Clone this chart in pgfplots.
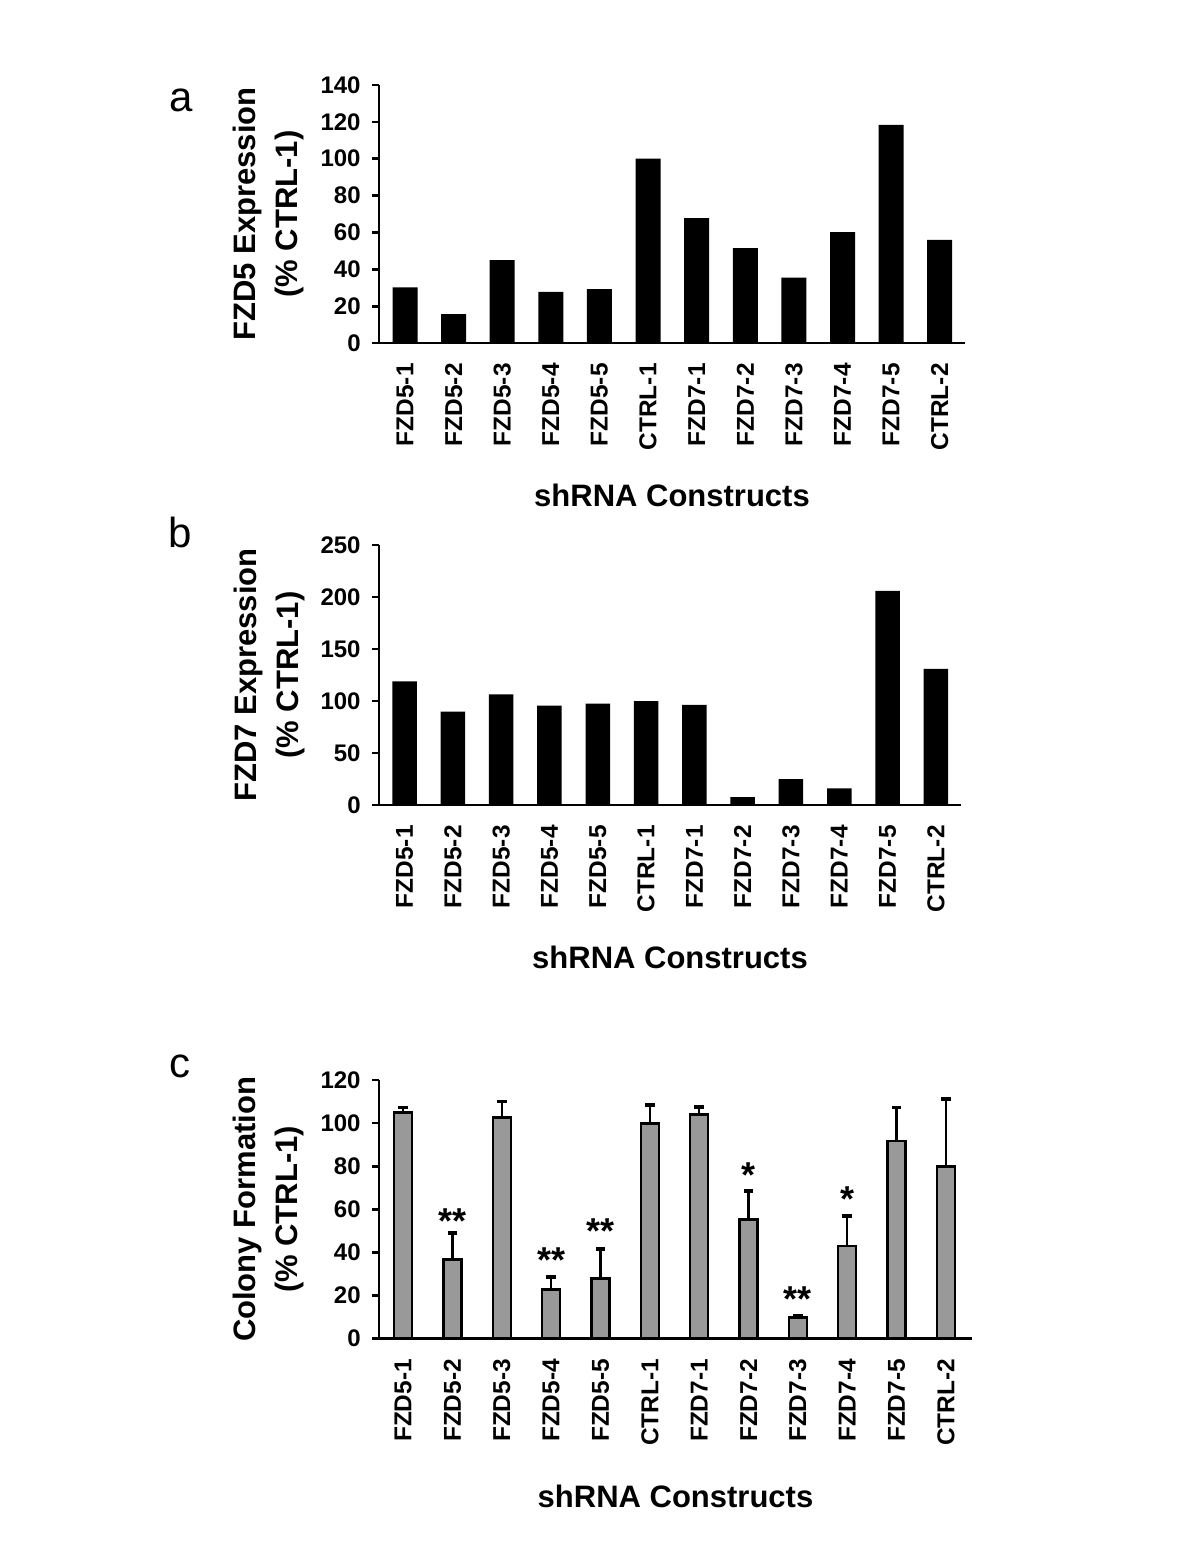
\documentclass[border=0pt]{standalone}
\usepackage{fontspec}
\setmainfont{Liberation Sans}
\usepackage{pgfplots}
\pgfplotsset{compat=1.18}
\definecolor{bargray}{RGB}{153,153,153}
\pgfplotsset{
  panel/.style={
    scale only axis,
    axis lines=left,
    axis line style={-, line width=1.35pt},
    anchor=south west,
    ymin=0,
    xtick={0,...,11},
    xticklabels={FZD5-1,FZD5-2,FZD5-3,FZD5-4,FZD5-5,CTRL-1,FZD7-1,FZD7-2,FZD7-3,FZD7-4,FZD7-5,CTRL-2},
    x tick style={draw=none},
    y tick style={line width=1.35pt, black},
    tick align=outside,
    major tick length=3.5pt,
    xticklabel style={yshift=-6.5pt, rotate=90, anchor=east, inner sep=0pt, font=\fontsize{12.2}{14}\selectfont\bfseries},
    yticklabel style={font=\fontsize{12}{14}\selectfont\bfseries, inner sep=0pt, xshift=-5.5pt},
    /pgf/number format/assume math mode=true,
    ylabel style={align=center, font=\fontsize{15.5}{21}\selectfont\bfseries, anchor=center, rotate=0},
    xlabel style={font=\fontsize{15.5}{18}\selectfont\bfseries, anchor=center},
    xlabel={shRNA Constructs},
  }
}
\begin{document}
\begin{tikzpicture}
\path[use as bounding box] (0,0) rectangle (600pt,-776.5pt);
% panel letters
\node[anchor=base, font=\fontsize{21}{24}\selectfont] at (90.5pt,-55.8pt) {a};
\node[anchor=base, font=\fontsize{21}{24}\selectfont] at (90pt,-273.5pt) {b};
\node[anchor=base, font=\fontsize{21}{24}\selectfont] at (90pt,-538.5pt) {c};

% Panel a
\begin{axis}[panel,
  at={(189.5pt,-171.5pt)},
  width=293pt, height=129pt,
  xmin=-0.535, xmax=11.52,
  ymax=140, ytick={0,20,...,140},
  ylabel={FZD5 Expression\\(\% CTRL-1)},
  ylabel style={at={(axis description cs:-0.188,0.5)}},
  xlabel style={at={(axis description cs:0.5,-0.589)}},
]
\addplot[ybar, bar width=12.5pt, fill=black, draw=none] coordinates {
(0,30.2) (1,15.7) (2,45.0) (3,27.8) (4,29.3) (5,100.0)
(6,67.8) (7,51.5) (8,35.5) (9,60.2) (10,118.3) (11,56.0)};
\end{axis}

% Panel b
\begin{axis}[panel,
  at={(189.5pt,-402.5pt)},
  width=291pt, height=130pt,
  xmin=-0.53, xmax=11.52,
  ymax=250, ytick={0,50,...,250},
  ylabel={FZD7 Expression\\(\% CTRL-1)},
  ylabel style={at={(axis description cs:-0.189,0.5)}},
  xlabel style={at={(axis description cs:0.5,-0.585)}},
]
\addplot[ybar, bar width=12.25pt, fill=black, draw=none] coordinates {
(0,119.0) (1,89.7) (2,106.4) (3,95.5) (4,97.4) (5,100.0)
(6,96.4) (7,7.7) (8,25.0) (9,16.0) (10,206.0) (11,130.8)};
\end{axis}

% Panel c
\begin{axis}[panel,
  at={(189.5pt,-669.35pt)},
  width=296.5pt, height=129.35pt,
  xmin=-0.49, xmax=11.53,
  ymax=120, ytick={0,20,...,120},
  ylabel={Colony Formation\\(\% CTRL-1)},
  ylabel style={at={(axis description cs:-0.187,0.5)}},
  xlabel style={at={(axis description cs:0.5,-0.608)}},
]
\addplot[ybar, bar width=9pt, fill=bargray, draw=black, line width=1.3pt,
  error bars/.cd, y dir=plus, y explicit,
  error bar style={line width=1.3pt, black},
  error mark options={rotate=90, line width=1.8pt, mark size=2.4pt, black}]
coordinates {
(0,105.0) +- (0,2.3)
(1,36.8) +- (0,12.1)
(2,102.7) +- (0,7.4)
(3,22.9) +- (0,5.6)
(4,27.8) +- (0,13.8)
(5,99.9) +- (0,8.6)
(6,104.1) +- (0,3.4)
(7,55.2) +- (0,13.4)
(8,9.9) +- (0,0.9)
(9,43.0) +- (0,13.9)
(10,91.7) +- (0,15.6)
(11,79.8) +- (0,31.5)};
\begin{scope}[every node/.style={anchor=base, font=\fontsize{18}{20}\selectfont\bfseries, inner sep=0pt, yshift=-10.3pt}]
\node at (axis cs:1,58.3) {**};
\node at (axis cs:3,40.4) {**};
\node at (axis cs:4,53.7) {**};
\node at (axis cs:7,79.8) {*};
\node at (axis cs:8,22.3) {**};
\node at (axis cs:9,68.6) {*};
\end{scope}
\end{axis}
\end{tikzpicture}
\end{document}
